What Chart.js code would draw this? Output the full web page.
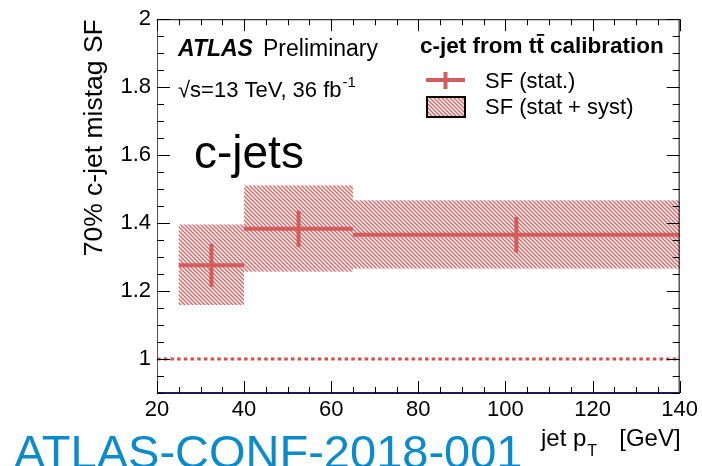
<!DOCTYPE html>
<html>
<head>
<meta charset="utf-8">
<script src="https://cdn.jsdelivr.net/npm/chart.js@4/dist/chart.umd.min.js"></script>
<style>
  html, body { margin: 0; padding: 0; background: #fff; }
  #wrap { width: 702px; height: 466px; position: relative; }
</style>
</head>
<body>
<div id="wrap"><canvas id="sf"></canvas></div>
<script>
// pT bins [GeV] and measured scale factors
const binLow = [25, 40, 65];
const binHigh = [40, 65, 140];
const sfValue = [1.276, 1.383, 1.366];
const statErr = [0.063, 0.053, 0.053];
const totalUp = [1.396, 1.511, 1.467];
const totalDown = [1.159, 1.257, 1.266];

const xTickValues = [20, 40, 60, 80, 100, 120, 140];
const yTickValues = [1, 1.2, 1.4, 1.6, 1.8, 2];

const RED = '#d35c5c';
const FONT = '"Liberation Sans", Arial, sans-serif';

// diagonal hatch used for the stat+syst band
function hatchPattern(ctx) {
  const c = document.createElement('canvas');
  c.width = 4; c.height = 4;
  const g = c.getContext('2d');
  g.strokeStyle = '#dc6464';
  g.lineWidth = 1.4;
  g.beginPath();
  g.moveTo(-1, -1); g.lineTo(5, 5);
  g.moveTo(-1, 3); g.lineTo(1, 5);
  g.moveTo(3, -1); g.lineTo(5, 1);
  g.stroke();
  return ctx.createPattern(c, 'repeat');
}

const sfPlugin = {
  id: 'sfPlugin',
  beforeDatasetsDraw(chart) {
    const {ctx, scales: {x, y}} = chart;
    const hatch = hatchPattern(ctx);
    ctx.save();
    ctx.fillStyle = hatch;
    for (let i = 0; i < binLow.length; i++) {
      const x0 = x.getPixelForValue(binLow[i]);
      const x1 = x.getPixelForValue(binHigh[i]);
      const y0 = y.getPixelForValue(totalUp[i]);
      const y1 = y.getPixelForValue(totalDown[i]);
      ctx.fillRect(x0, y0, x1 - x0, y1 - y0);
    }
    // stat errors
    ctx.strokeStyle = RED;
    ctx.lineWidth = 4;
    for (let i = 0; i < binLow.length; i++) {
      const x0 = x.getPixelForValue(binLow[i]);
      const x1 = x.getPixelForValue(binHigh[i]);
      const xc = x.getPixelForValue((binLow[i] + binHigh[i]) / 2);
      const yc = y.getPixelForValue(sfValue[i]);
      ctx.beginPath();
      ctx.moveTo(x0, yc); ctx.lineTo(x1, yc);
      ctx.moveTo(xc, y.getPixelForValue(sfValue[i] + statErr[i]));
      ctx.lineTo(xc, y.getPixelForValue(sfValue[i] - statErr[i]));
      ctx.stroke();
    }
    ctx.restore();
  },
  afterDraw(chart) {
    const {ctx, chartArea: a, scales: {x, y}} = chart;
    ctx.save();
    // frame
    ctx.strokeStyle = '#000';
    ctx.lineWidth = 1;
    ctx.strokeRect(a.left + 0.5, a.top + 0.5, a.right - a.left - 1, a.bottom - a.top);
    ctx.strokeStyle = '#555';
    ctx.beginPath(); ctx.moveTo(a.left + 0.5, a.top); ctx.lineTo(a.left + 0.5, a.bottom); ctx.stroke();
    ctx.strokeStyle = '#1c1c5c';
    ctx.lineWidth = 2;
    ctx.beginPath(); ctx.moveTo(a.left, a.bottom); ctx.lineTo(a.right, a.bottom); ctx.stroke();

    // inward ticks on all four sides
    ctx.strokeStyle = '#000';
    ctx.lineWidth = 1;
    ctx.beginPath();
    for (let v = 20; v <= 140; v += 5) {
      const px = Math.round(x.getPixelForValue(v)) + 0.5;
      const len = v % 20 === 0 ? 12 : 6;
      ctx.moveTo(px, a.bottom); ctx.lineTo(px, a.bottom - len);
      ctx.moveTo(px, a.top); ctx.lineTo(px, a.top + len);
    }
    for (let k = 18; k <= 40; k++) {
      const v = k * 0.05;
      const py = Math.round(y.getPixelForValue(v)) + 0.5;
      const len = k % 4 === 0 ? 13 : 7;
      ctx.moveTo(a.left, py); ctx.lineTo(a.left + len, py);
      ctx.moveTo(a.right, py); ctx.lineTo(a.right - len, py);
    }
    ctx.stroke();

    // labels in the plot
    ctx.fillStyle = '#000';
    ctx.textBaseline = 'alphabetic';
    ctx.font = 'italic bold 23px ' + FONT;
    ctx.fillText('ATLAS', 178, 56);
    ctx.font = '23px ' + FONT;
    ctx.fillText('Preliminary', 263, 56);

    ctx.font = '22px ' + FONT;
    ctx.fillText('√s=13 TeV, 36 fb', 178, 97);
    let w = ctx.measureText('√s=13 TeV, 36 fb').width;
    ctx.font = '15px ' + FONT;
    ctx.fillText('-1', 178 + w + 1, 87);

    ctx.font = '46px ' + FONT;
    ctx.fillText('c-jets', 194, 168);

    // legend
    ctx.font = 'bold 22.5px ' + FONT;
    const t1 = 'c-jet from t';
    ctx.fillText(t1, 420, 53);
    const w1 = ctx.measureText(t1).width;
    const wt = ctx.measureText('t').width;
    ctx.fillText('t', 420 + w1, 53);
    ctx.fillText(' calibration', 420 + w1 + wt, 53);
    ctx.fillRect(420 + w1 + 0.5, 34, wt, 1.8);

    ctx.strokeStyle = RED;
    ctx.lineWidth = 4;
    ctx.beginPath();
    ctx.moveTo(426, 80); ctx.lineTo(465, 80);
    ctx.moveTo(445.5, 72); ctx.lineTo(445.5, 89);
    ctx.stroke();

    ctx.fillStyle = hatchPattern(ctx);
    ctx.fillRect(427, 97, 38, 20);
    ctx.strokeStyle = '#000';
    ctx.lineWidth = 2;
    ctx.strokeRect(427, 97, 38, 20);

    ctx.fillStyle = '#000';
    ctx.font = '22px ' + FONT;
    ctx.fillText('SF (stat.)', 485, 88);
    ctx.fillText('SF (stat + syst)', 485, 114);

    // x-axis title with subscript, right edge on the frame
    ctx.font = '24px ' + FONT;
    ctx.fillText('jet p', 541, 446);
    const wp = ctx.measureText('jet p').width;
    ctx.font = '16px ' + FONT;
    ctx.fillText('T', 542 + wp, 456);
    ctx.font = '24px ' + FONT;
    ctx.textAlign = 'right';
    ctx.fillText('[GeV]', a.right + 1, 446);
    ctx.textAlign = 'left';

    ctx.fillStyle = '#0a8ccc';
    ctx.font = '47px ' + FONT;
    ctx.fillText('ATLAS-CONF-2018-001', 14, 468);
    ctx.restore();
  }
};

new Chart(document.getElementById('sf'), {
  type: 'scatter',
  data: {
    datasets: [{
      type: 'line',
      data: [{x: 20, y: 1}, {x: 140, y: 1}],
      borderColor: '#e04848',
      borderWidth: 3,
      borderDash: [3.5, 3.2],
      pointRadius: 0
    }]
  },
  options: {
    responsive: true,
    maintainAspectRatio: false,
    animation: false,
    devicePixelRatio: 1,
    layout: {padding: {top: 18, right: 21, left: 0, bottom: 0}},
    plugins: {legend: {display: false}, tooltip: {enabled: false}},
    scales: {
      x: {
        type: 'linear', min: 20, max: 140,
        afterBuildTicks: s => { s.ticks = xTickValues.map(v => ({value: v})); },
        afterFit: s => { s.height = 73; },
        grid: {display: false, drawTicks: false},
        border: {display: false},
        ticks: {color: '#000', padding: 4, maxRotation: 0, font: {family: FONT, size: 22}}
      },
      y: {
        type: 'linear', min: 0.9, max: 2,
        afterBuildTicks: s => { s.ticks = yTickValues.map(v => ({value: v})); },
        afterFit: s => { s.width = 157; },
        grid: {display: false, drawTicks: false},
        border: {display: false},
        title: {
          display: true, text: '70% c-jet mistag SF', align: 'end',
          color: '#000', font: {family: FONT, size: 26.5}, padding: {top: 79, bottom: 0}
        },
        ticks: {
          color: '#000', padding: 6, font: {family: FONT, size: 22},
          callback: v => String(+v.toFixed(1))
        }
      }
    }
  },
  plugins: [sfPlugin]
});
</script>
</body>
</html>
